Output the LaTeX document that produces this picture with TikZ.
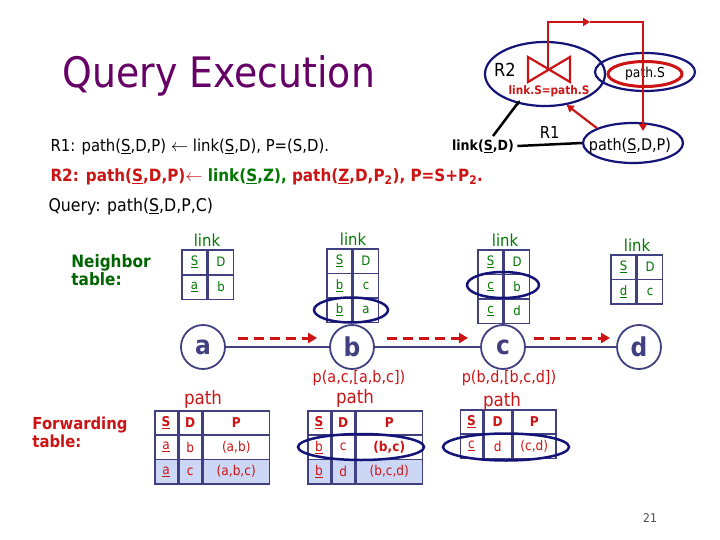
\documentclass[tikz,border=0pt]{standalone}
\usepackage{fontspec}
\setmainfont{DejaVu Sans}[FakeStretch=0.9]
\usetikzlibrary{positioning,shapes.geometric,arrows.meta}
\definecolor{ttlc}{RGB}{102,0,102}
\definecolor{rdc}{RGB}{204,20,20}
\definecolor{grc}{RGB}{0,120,0}
\definecolor{grdk}{RGB}{0,100,0}
\definecolor{nvc}{RGB}{20,20,120}
\definecolor{tbc}{RGB}{64,64,128}
\definecolor{lbc}{RGB}{204,214,245}
\begin{document}
\begin{tikzpicture}[x=1pt,y=-1pt,
  lcell/.style={draw=tbc,line width=1.5pt,minimum width=25pt,minimum height=24.5pt,inner sep=0pt,text=grc,font=\fontsize{13}{15}\selectfont},
  pcell/.style={draw=tbc,line width=1.5pt,minimum height=24.3pt,inner sep=0pt,text=rdc,font=\fontsize{13.5}{15}\selectfont},
  nd/.style={circle,draw=tbc,line width=1.8pt,minimum size=44pt,inner sep=0pt,text=tbc,font=\fontsize{26}{26}\selectfont\bfseries},
  hop/.style={draw=tbc,line width=2pt},
  msg/.style={draw=rdc,line width=3pt,dash pattern=on 10pt off 6pt,-{Triangle[length=9pt,width=10pt]}},
  ring/.style={ellipse,draw=nvc,line width=2.2pt,inner sep=0pt},
  rline/.style={draw=rdc,line width=2.2pt},
  blk/.style={draw=black,line width=2.5pt},
  tlbl/.style={font=\fontsize{16.5}{18}\selectfont}]
\useasboundingbox (0,0) rectangle (720,540);

% title and rules
\node[anchor=base west,text=ttlc,font=\fontsize{42}{46}\selectfont] (ttl) at (59,88) {Query Execution};
\node[anchor=west,font=\fontsize{16.5}{18}\selectfont] (r1) at (47,147)
  {R1: path(\underline{S},D,P) $\leftarrow$ link(\underline{S},D), P=(S,D).};
\node[anchor=west,font=\fontsize{16.9}{18}\selectfont\bfseries,text=rdc] (r2r) at (47,177)
  {R2: path(\underline{S},D,P)$\leftarrow$ \textcolor{grc}{link(\underline{S},Z),} path(\underline{Z},D,P\textsubscript{2}), P=S+P\textsubscript{2}.};
\node[anchor=west,font=\fontsize{17.5}{19}\selectfont] (qry) at (45,207) {Query: path(\underline{S},D,P,C)};

% rule graph
\node[ring,minimum width=120pt,minimum height=64pt] (r2) at (545,74) {};
\node[font=\fontsize{18}{20}\selectfont] (r2l) at (505,70) {R2};
\draw[rline] (528,57) -- (570,82) -- (570,57) -- (528,82) -- cycle;
\coordinate (jn) at (548,69);
\node[text=rdc,font=\fontsize{11.7}{13}\selectfont\bfseries] (jc) at (549,91) {link.S=path.S};
\node[ring,minimum width=100pt,minimum height=38pt] (ps) at (645,72) {};
\node[ellipse,draw=rdc,line width=3pt,minimum width=74pt,minimum height=25pt,inner sep=0pt,
  font=\fontsize{13.7}{15}\selectfont] (psr) at (645,74) {path.S};
\node[ring,minimum width=100pt,minimum height=40pt] (pp) at (633,143) {};
\node[font=\fontsize{16}{18}\selectfont] (ppl) at (630,146) {path(\underline{S},D,P)};
\node[font=\fontsize{14}{16}\selectfont\bfseries] (lsd) at (483,146) {link(\underline{S},D)};
\coordinate (jm) at (590,22);
\coordinate (pin) at (643,131);
\draw[rline,-{Triangle[length=7pt,width=8pt]}] (jn) |- (jm);
\draw[rline,-{Triangle[length=7pt,width=8pt]}] (jm) -| (pin);
\draw[rline,-{Triangle[length=7pt,width=8pt]}] (pp.north west) -- (r2.-55);
\draw[blk,-{Stealth[length=5pt]}] ([xshift=10pt]lsd.north) -- ([xshift=-29pt]jc.south);
\draw[blk] (lsd.east) -- node[above=1pt,font=\fontsize{16.5}{18}\selectfont] (r1l) {R1} (pp.west);

% neighbor tables
\node[align=left,text=grdk,font=\fontsize{17}{18}\selectfont\bfseries] (nbr) at (111,270) {Neighbor\\table:};
\foreach \n/\x/\y/\s/\d in {la0/194.5/262/S/D,la1/194.5/287/a/b,
    lb0/339.5/261/S/D,lb1/339.5/285.5/b/c,lb2/339.5/310/b/a,
    lc0/490.5/262/S/D,lc1/490.5/286.5/c/b,lc2/490.5/311/c/d,
    ld0/623.5/267/S/D,ld1/623.5/291.5/d/c}{
  \node[lcell] (\n-s) at (\x,\y) {\underline{\s}};
  \node[lcell,right=0pt of \n-s] (\n-d) {\d};
}
\node[tlbl,text=grc] (lka) at (207,240) {link};
\node[tlbl,text=grc] (lkb) at (353,239) {link};
\node[tlbl,text=grc] (lkc) at (505,240) {link};
\node[tlbl,text=grc] (lkd) at (637,245) {link};
\node[ring,line width=2.5pt,minimum width=74pt,minimum height=25pt] (hb) at (351,310) {};
\node[ring,line width=2.5pt,minimum width=72pt,minimum height=26pt] (hc) at (503,285) {};

% nodes and messages
\node[nd] (na) at (203,347) {a};
\node[nd] (nb) at (352,347) {b};
\node[nd] (nc) at (503,347) {c};
\node[nd] (ndd) at (639,347) {d};
\draw[hop] (na) -- (nb);
\draw[hop] (nb) -- (nc);
\draw[hop] (nc) -- (ndd);
\draw[msg] ([xshift=12pt,yshift=9pt]na.east) -- ([xshift=-12pt,yshift=9pt]nb.west);
\draw[msg] ([xshift=12pt,yshift=9pt]nb.east) -- ([xshift=-12pt,yshift=9pt]nc.west);
\draw[msg] ([xshift=8pt,yshift=9pt]nc.east) -- ([xshift=-6pt,yshift=9pt]ndd.west);
\node[text=rdc,font=\fontsize{16}{18}\selectfont] (pac) at (359,378) {p(a,c,[a,b,c])};
\node[text=rdc,font=\fontsize{16}{18}\selectfont] (pbd) at (509,378) {p(b,d,[b,c,d])};

% forwarding tables
\node[align=left,text=rdc,font=\fontsize{16.5}{18}\selectfont\bfseries] (fwd) at (80,432) {Forwarding\\table:};
\foreach \n/\x/\y/\s/\d/\p/\dw/\pw/\f in {
    pa0/166/423/\textbf{S}/\textbf{D}/\textbf{P}/23/66/white,
    pa1/166/447.3/a/b/{(a,b)}/23/66/white,
    pa2/166/471.6/a/c/{(a,b,c)}/23/66/lbc,
    pb0/319/423/\textbf{S}/\textbf{D}/\textbf{P}/23/66/white,
    pb1/319/447.3/b/c/{\textbf{(b,c)}}/23/66/white,
    pb2/319/471.6/b/d/{(b,c,d)}/23/66/lbc,
    pc0/471.5/422/\textbf{S}/\textbf{D}/\textbf{P}/27/43/white,
    pc1/471.5/446.3/c/d/{(c,d)}/27/43/white}{
  \node[pcell,fill=\f,minimum width=22.5pt] (\n-s) at (\x,\y) {\underline{\s}};
  \node[pcell,fill=\f,minimum width=\dw pt,right=0pt of \n-s] (\n-d) {\d};
  \node[pcell,fill=\f,minimum width=\pw pt,right=0pt of \n-d] (\n-p) {\p};
}
\node[tlbl,text=rdc,font=\fontsize{18.5}{20}\selectfont] (pta) at (203,399) {path};
\node[tlbl,text=rdc,font=\fontsize{18.5}{20}\selectfont] (ptb) at (355,398) {path};
\node[tlbl,text=rdc,font=\fontsize{18.5}{20}\selectfont] (ptc) at (502,401) {path};
\node[ring,line width=2.5pt,minimum width=126pt,minimum height=26pt] (hpb) at (361,447) {};
\node[ring,line width=2.5pt,minimum width=126pt,minimum height=27pt] (hpc) at (506,447) {};

\node[text=black!70,font=\fontsize{12}{14}\selectfont] (pg) at (650,518) {21};
\end{tikzpicture}
\end{document}
